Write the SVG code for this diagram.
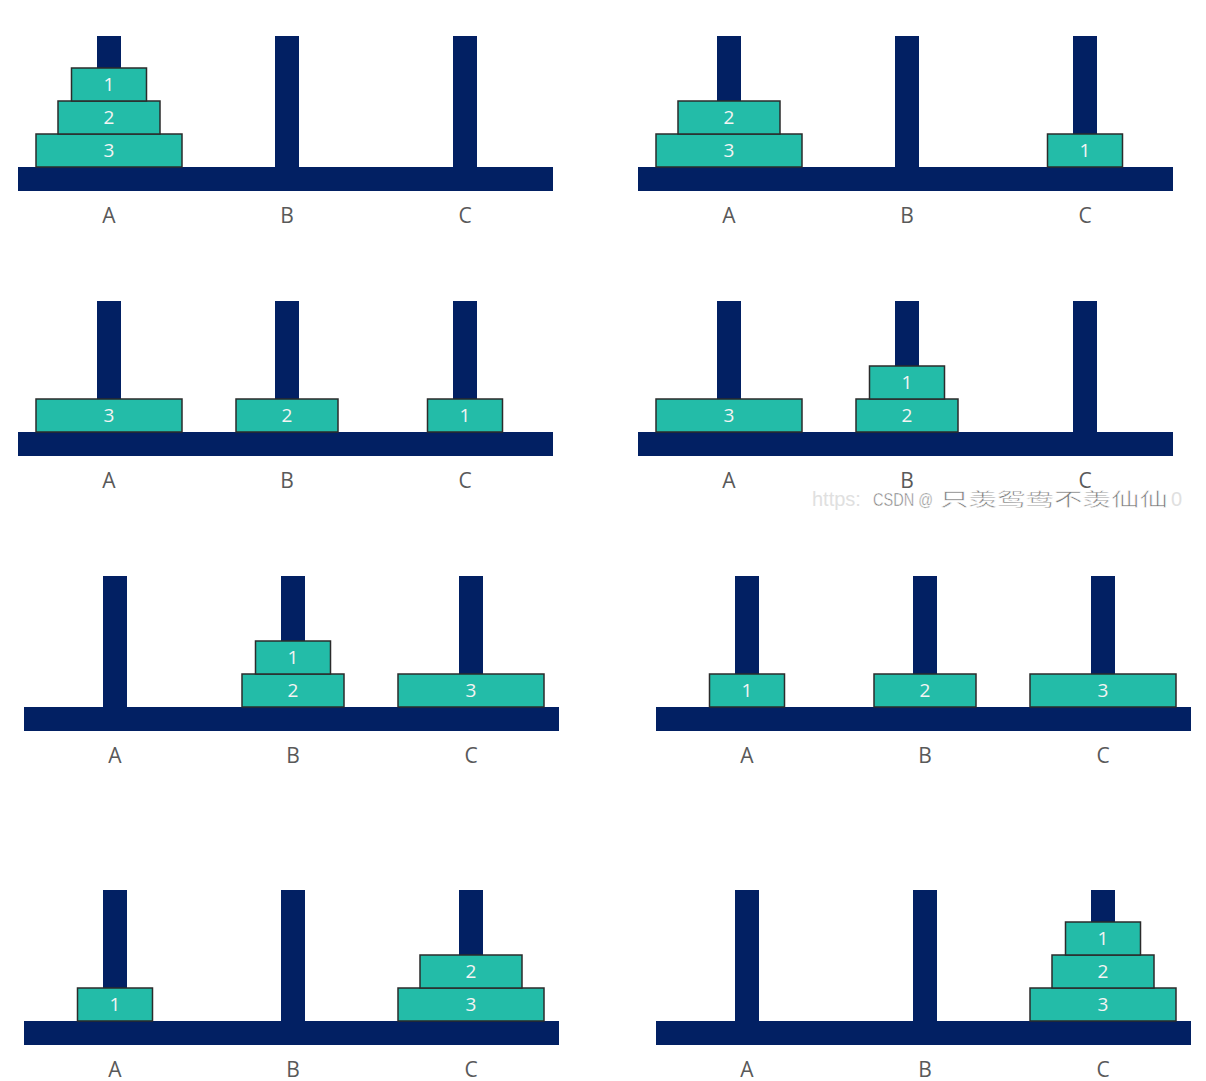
<svg xmlns="http://www.w3.org/2000/svg" xmlns:xlink="http://www.w3.org/1999/xlink" width="1206" height="1081" viewBox="0 0 1206 1081">
  <style>
    .bar { fill: #022063; }
    .disk rect { fill: #23BCA8; stroke: #2b2b2b; stroke-width: 1.5; }
    .disk text { fill: #f4f4f4; font-family: "Open Sans", "Noto Sans", sans-serif; font-size: 19px; text-anchor: middle; }
    .lbl { fill: #595959; font-family: "Open Sans", "Noto Sans", sans-serif; font-size: 21px; text-anchor: middle; }
    .wm { font-family: "Liberation Sans", "Noto Sans CJK SC", sans-serif; font-size: 18px; }
  </style>
  <defs>
    <g id="stand">
      <rect class="bar" x="97" y="36" width="24" height="132"/>
      <rect class="bar" x="275" y="36" width="24" height="132"/>
      <rect class="bar" x="453" y="36" width="24" height="132"/>
      <rect class="bar" x="18" y="167" width="535" height="24"/>
      <text class="lbl" x="109" y="223">A</text>
      <text class="lbl" x="287" y="223">B</text>
      <text class="lbl" x="465" y="223">C</text>
    </g>
  </defs>
  <rect width="1206" height="1081" fill="#ffffff"/>

  <!-- Panel 1 -->
  <g id="panel-1">
    <use xlink:href="#stand" href="#stand"/>
    <g id="p1-d3" class="disk"><rect x="36" y="134" width="146" height="33"/><text x="109" y="157">3</text></g>
    <g id="p1-d2" class="disk"><rect x="58" y="101" width="102" height="33"/><text x="109" y="124">2</text></g>
    <g id="p1-d1" class="disk"><rect x="71.5" y="68" width="75" height="33"/><text x="109" y="91">1</text></g>
  </g>

  <!-- Panel 2 -->
  <g id="panel-2" transform="translate(620,0)">
    <use xlink:href="#stand" href="#stand"/>
    <g id="p2-d3" class="disk"><rect x="36" y="134" width="146" height="33"/><text x="109" y="157">3</text></g>
    <g id="p2-d2" class="disk"><rect x="58" y="101" width="102" height="33"/><text x="109" y="124">2</text></g>
    <g id="p2-d1" class="disk"><rect x="427.5" y="134" width="75" height="33"/><text x="465" y="157">1</text></g>
  </g>

  <!-- Panel 3 -->
  <g id="panel-3" transform="translate(0,265)">
    <use xlink:href="#stand" href="#stand"/>
    <g id="p3-d3" class="disk"><rect x="36" y="134" width="146" height="33"/><text x="109" y="157">3</text></g>
    <g id="p3-d2" class="disk"><rect x="236" y="134" width="102" height="33"/><text x="287" y="157">2</text></g>
    <g id="p3-d1" class="disk"><rect x="427.5" y="134" width="75" height="33"/><text x="465" y="157">1</text></g>
  </g>

  <!-- Panel 4 -->
  <g id="panel-4" transform="translate(620,265)">
    <use xlink:href="#stand" href="#stand"/>
    <g id="p4-d3" class="disk"><rect x="36" y="134" width="146" height="33"/><text x="109" y="157">3</text></g>
    <g id="p4-d2" class="disk"><rect x="236" y="134" width="102" height="33"/><text x="287" y="157">2</text></g>
    <g id="p4-d1" class="disk"><rect x="249.5" y="101" width="75" height="33"/><text x="287" y="124">1</text></g>
  </g>

  <!-- Watermark -->
  <g id="watermark" class="wm">
    <text x="812" y="506" fill="#e0e0e0" font-size="20">https:</text>
    <text x="873" y="506" fill="#7a7a7a" stroke="#ffffff" stroke-width="0.5" font-size="18"><tspan textLength="60" lengthAdjust="spacingAndGlyphs">CSDN @</tspan><tspan x="940" textLength="228" lengthAdjust="spacingAndGlyphs">只羡鸳鸯不羡仙仙</tspan></text>
    <text x="1171" y="506" fill="#e0e0e0" font-size="20">0</text>
  </g>

  <!-- Panel 5 -->
  <g id="panel-5" transform="translate(6,540)">
    <use xlink:href="#stand" href="#stand"/>
    <g id="p5-d2" class="disk"><rect x="236" y="134" width="102" height="33"/><text x="287" y="157">2</text></g>
    <g id="p5-d1" class="disk"><rect x="249.5" y="101" width="75" height="33"/><text x="287" y="124">1</text></g>
    <g id="p5-d3" class="disk"><rect x="392" y="134" width="146" height="33"/><text x="465" y="157">3</text></g>
  </g>

  <!-- Panel 6 -->
  <g id="panel-6" transform="translate(638,540)">
    <use xlink:href="#stand" href="#stand"/>
    <g id="p6-d1" class="disk"><rect x="71.5" y="134" width="75" height="33"/><text x="109" y="157">1</text></g>
    <g id="p6-d2" class="disk"><rect x="236" y="134" width="102" height="33"/><text x="287" y="157">2</text></g>
    <g id="p6-d3" class="disk"><rect x="392" y="134" width="146" height="33"/><text x="465" y="157">3</text></g>
  </g>

  <!-- Panel 7 -->
  <g id="panel-7" transform="translate(6,854)">
    <use xlink:href="#stand" href="#stand"/>
    <g id="p7-d1" class="disk"><rect x="71.5" y="134" width="75" height="33"/><text x="109" y="157">1</text></g>
    <g id="p7-d3" class="disk"><rect x="392" y="134" width="146" height="33"/><text x="465" y="157">3</text></g>
    <g id="p7-d2" class="disk"><rect x="414" y="101" width="102" height="33"/><text x="465" y="124">2</text></g>
  </g>

  <!-- Panel 8 -->
  <g id="panel-8" transform="translate(638,854)">
    <use xlink:href="#stand" href="#stand"/>
    <g id="p8-d3" class="disk"><rect x="392" y="134" width="146" height="33"/><text x="465" y="157">3</text></g>
    <g id="p8-d2" class="disk"><rect x="414" y="101" width="102" height="33"/><text x="465" y="124">2</text></g>
    <g id="p8-d1" class="disk"><rect x="427.5" y="68" width="75" height="33"/><text x="465" y="91">1</text></g>
  </g>

  <g id="connectors"/>
</svg>
